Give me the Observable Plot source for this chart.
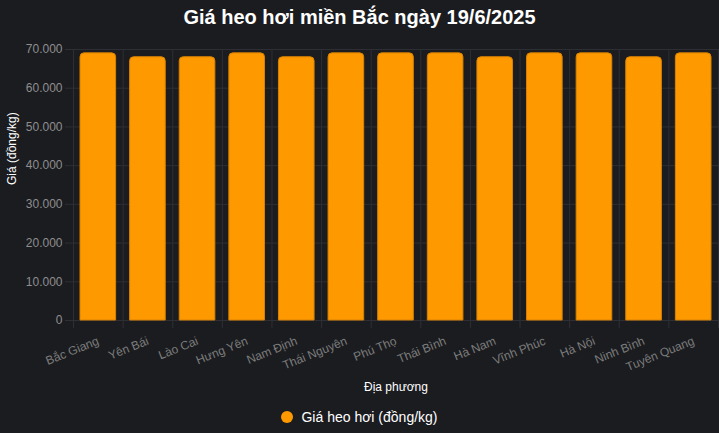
<!DOCTYPE html>
<html>
<head>
<meta charset="utf-8">
<script src="https://cdn.jsdelivr.net/npm/d3@7"></script>
<script src="https://cdn.jsdelivr.net/npm/@observablehq/plot@0.6"></script>
<style>
  html, body { margin: 0; padding: 0; background: #1b1c20; width: 719px; height: 433px; overflow: hidden; }
  body { font-family: "Liberation Sans", Arial, Helvetica, sans-serif; }
  #title { height: 40px; box-sizing: border-box; padding-top: 6px; line-height: 22px; text-align: center; color: #ffffff; font-weight: bold; font-size: 20px; }
  #chart svg { display: block; }
  #legend { height: 33px; display: flex; justify-content: center; align-items: center; color: #ffffff; font-size: 14px; }
  #legend .dot { width: 12px; height: 12px; border-radius: 50%; background: #ff9900; margin-right: 8px; }
</style>
</head>
<body>
<div id="title"></div>
<div id="chart"></div>
<div id="legend"><span class="dot"></span><span id="legendText"></span></div>
<script>
const titleText = "Giá heo hơi miền Bắc ngày 19/6/2025";
const seriesName = "Giá heo hơi (đồng/kg)";
const xTitle = "Địa phương";
const yTitle = "Giá (đồng/kg)";
const provinces = ["Bắc Giang", "Yên Bái", "Lào Cai", "Hưng Yên", "Nam Định", "Thái Nguyên", "Phú Thọ", "Thái Bình", "Hà Nam", "Vĩnh Phúc", "Hà Nội", "Ninh Bình", "Tuyên Quang"];
const prices = [69000, 68000, 68000, 69000, 68000, 69000, 69000, 69000, 68000, 69000, 69000, 68000, 69000];
const yTicks = [0, 10000, 20000, 30000, 40000, 50000, 60000, 70000];

document.getElementById("title").textContent = titleText;
document.getElementById("legendText").textContent = seriesName;

const data = provinces.map((p, i) => ({province: p, price: prices[i]}));

const W = 719, H = 360, mL = 73, mR = 1, mT = 9, mB = 80;
const bw = (W - mL - mR) / provinces.length;
const grid = "#2e2f34";
const tickColor = "#8e8e8e";
const fmt = d => d3.format(",")(d).replace(/,/g, ".");

const chart = Plot.plot({
  width: W, height: H,
  marginLeft: mL, marginRight: mR, marginTop: mT, marginBottom: mB,
  style: {background: "transparent", fontFamily: "'Liberation Sans', Arial, sans-serif", fontSize: "12px"},
  x: {type: "band", domain: provinces, padding: 0, round: false, label: null, axis: null},
  y: {domain: [0, 70000], label: null},
  marks: [
    Plot.gridY(yTicks, {stroke: grid, strokeOpacity: 1}),
    Plot.tickY(yTicks, {y: d => d, stroke: grid, insetLeft: -8, insetRight: W - mL - mR, strokeWidth: 1}),
    Plot.ruleX(provinces, {x: d => d, dx: -bw / 2, stroke: grid, insetBottom: -8}),
    Plot.ruleX(provinces.slice(-1), {x: d => d, dx: bw / 2, stroke: grid, insetBottom: -8}),
    Plot.barY(data, {x: "province", y: "price", fill: "#ff9900", stroke: "#d98200", strokeWidth: 1, insetLeft: 7, insetRight: 7, rx1y1: 4, rx2y1: 4}),
    Plot.axisY(yTicks, {tickSize: 0, tickPadding: 11, tickFormat: fmt, fill: tickColor, fontSize: 12}),
    Plot.text(provinces, {x: d => d, frameAnchor: "bottom", dy: 20, rotate: -22, textAnchor: "end", lineAnchor: "middle", fill: "#7c7c7c", fontSize: 12}),
    Plot.text([xTitle], {frameAnchor: "bottom", dy: 67, fill: "#ffffff", fontSize: 12, lineAnchor: "middle"}),
    Plot.text([yTitle], {frameAnchor: "left", dx: -61, rotate: -90, fill: "#ffffff", fontSize: 12, lineAnchor: "middle"})
  ]
});
document.getElementById("chart").appendChild(chart);
</script>
</body>
</html>
